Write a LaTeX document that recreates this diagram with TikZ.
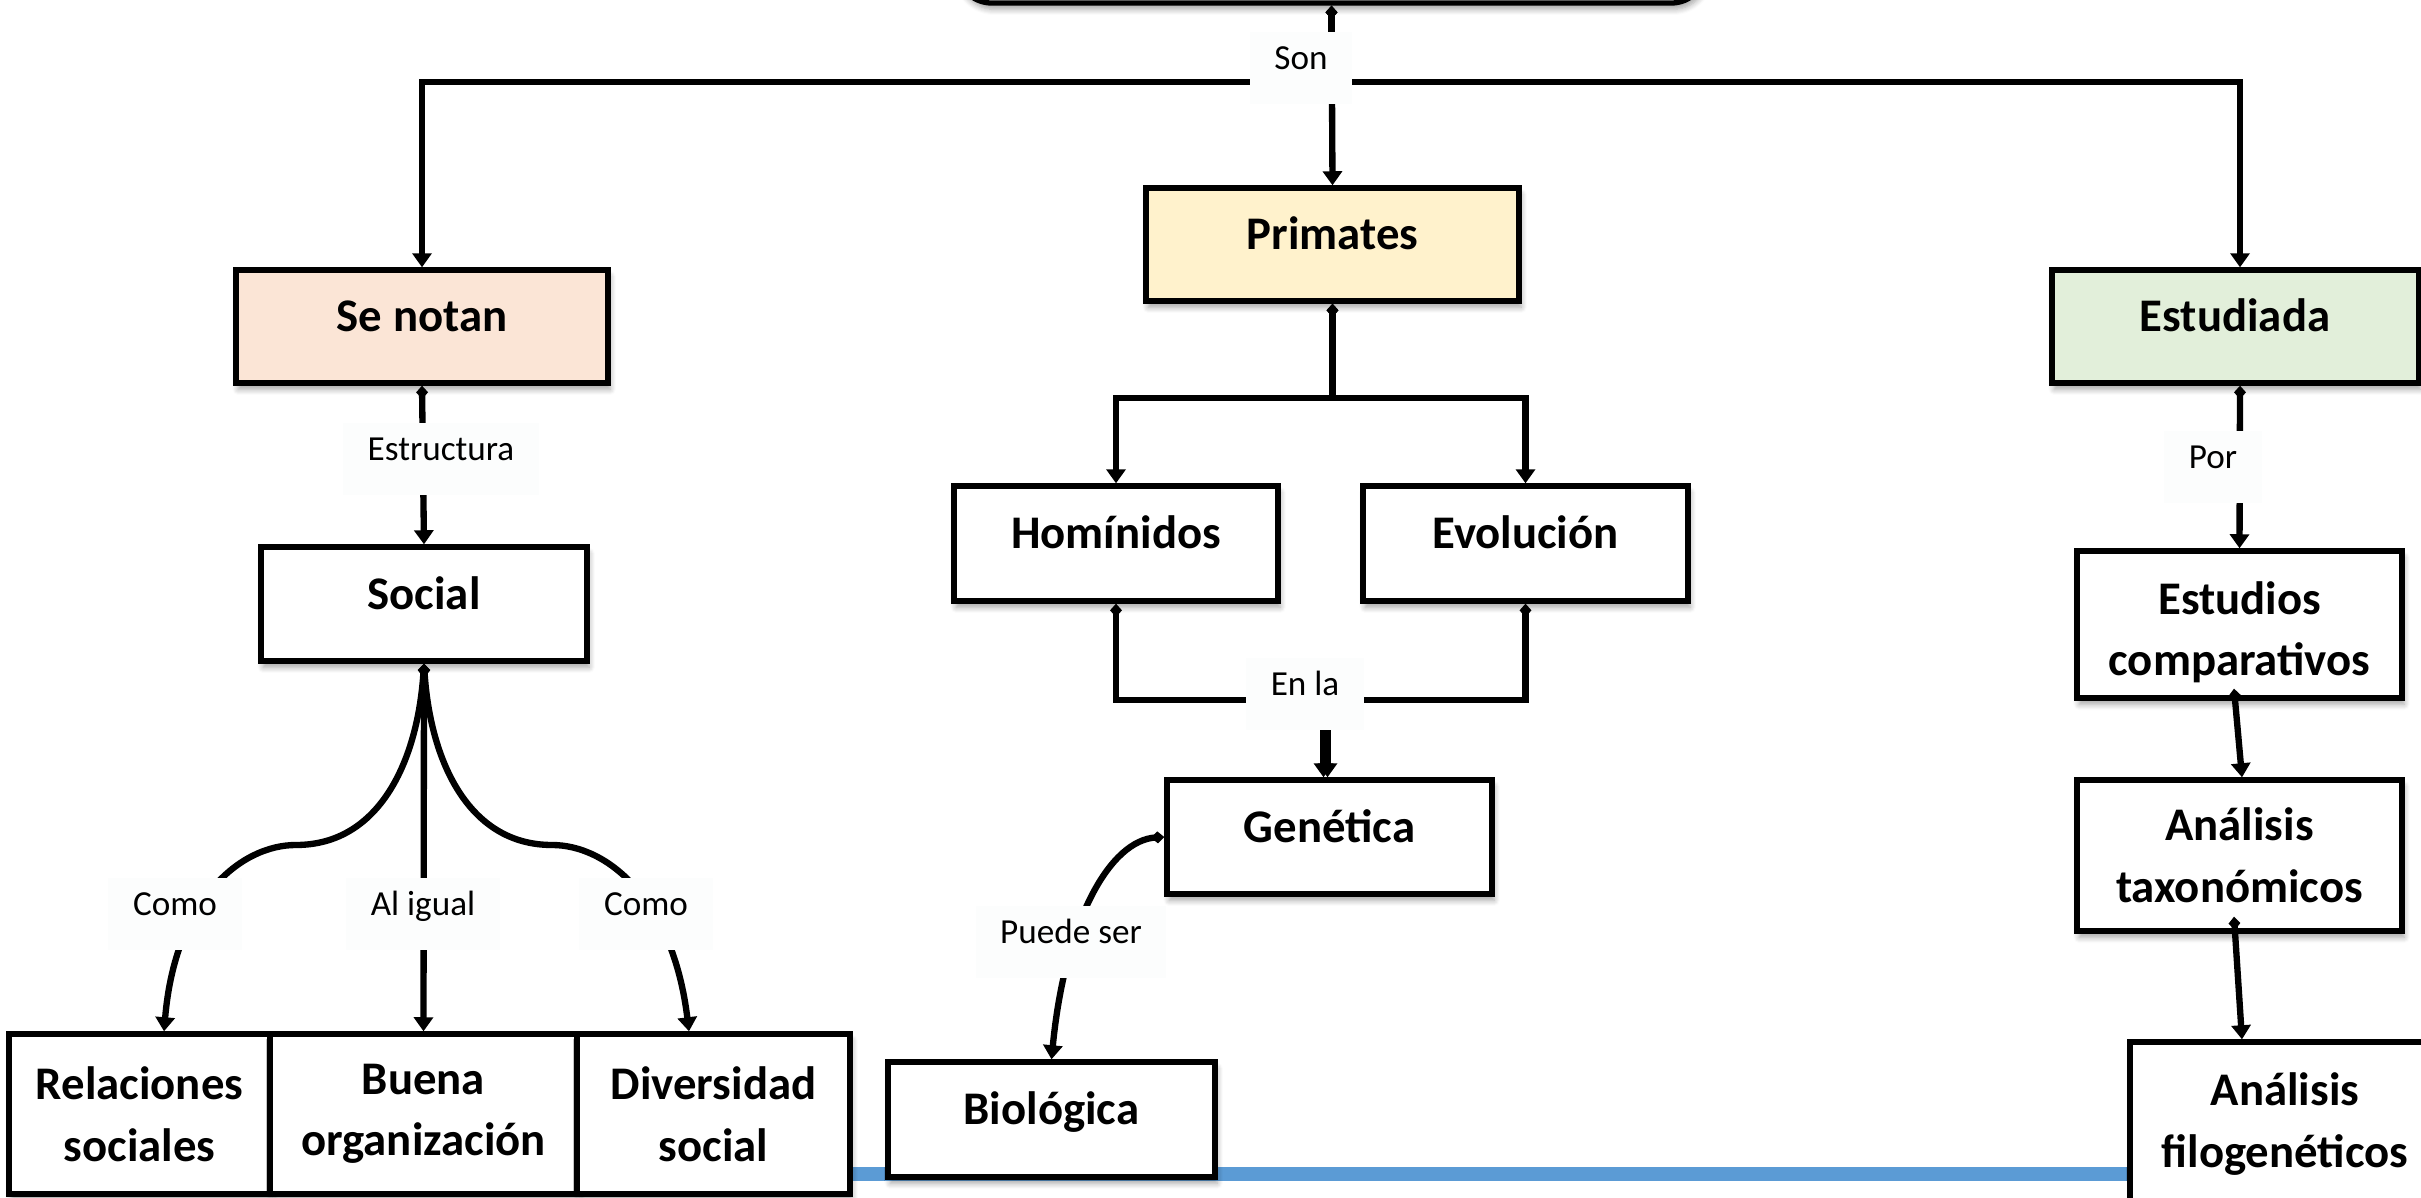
\documentclass[tikz,border=0pt]{standalone}
\usepackage{fontspec}
\setmainfont{Carlito}
\usetikzlibrary{arrows.meta,shadows.blur,backgrounds}
\definecolor{cOrange}{HTML}{FBE5D6}
\definecolor{cYellow}{HTML}{FFF2CC}
\definecolor{cGreen}{HTML}{E2EFDA}
\definecolor{cLabel}{RGB}{252,253,253}
\definecolor{cBlue}{HTML}{5B9BD5}
\tikzset{
  box/.style={draw=black, line width=1.5pt, fill=white, rectangle, inner sep=0pt,
    font=\fontsize{13.3}{17.5}\selectfont\bfseries, align=center,
    blur shadow={shadow xshift=0.6pt, shadow yshift=-1.8pt, shadow blur steps=6, shadow blur radius=1.6pt, shadow opacity=35}},
  one/.style={text height=9.5pt, text depth=6.6pt},
  lbl/.style={fill=cLabel, font=\fontsize{10}{12}\selectfont, inner xsep=7pt, inner ysep=3pt,
    text height=7.7pt, text depth=6.7pt},
  conn/.style={draw=black, line width=1.8pt,
    {Diamond[length=3.8pt,width=3.4pt]}-{Triangle[length=4pt,width=5.4pt]}},
  blueline/.style={draw=cBlue, line width=4pt},
}
\begin{document}
\begin{tikzpicture}[x=0.01cm, y=-0.01cm]
\useasboundingbox (0,0) rectangle (2421,1198);
\clip (0,0) rectangle (2421,1198);

% top (cut-off) box
\node[box, rounded corners=0.35cm, minimum width=7.49cm, minimum height=1.5cm] (top) at (1331.5,-72) {};

% left column
\node[box, one, fill=cOrange, minimum width=3.72cm, minimum height=1.13cm] (senotan) at (422,326.5) {Se notan};
\node[box, one, minimum width=3.26cm, minimum height=1.14cm] (social) at (424,604) {Social};
\node[box, minimum width=2.61cm, minimum height=1.60cm] (relaciones) at (139.5,1114) {Relaciones\\sociales};
\node[box, minimum width=3.07cm, minimum height=1.60cm] (buena) at (423.5,1114) {Buena\\organización};
\node[box, minimum width=2.73cm, minimum height=1.60cm] (diversidad) at (713.5,1114) {Diversidad\\social};

% middle column
\node[box, one, fill=cYellow, minimum width=3.73cm, minimum height=1.13cm] (primates) at (1332.5,244.5) {Primates};
\node[box, one, minimum width=3.24cm, minimum height=1.15cm] (hominidos) at (1116,543.5) {Homínidos};
\node[box, one, minimum width=3.25cm, minimum height=1.15cm] (evolucion) at (1525.5,543.5) {Evolución};
\node[box, one, minimum width=3.25cm, minimum height=1.14cm] (genetica) at (1329.5,837) {Genética};
\node[box, one, minimum width=3.27cm, minimum height=1.15cm] (biologica) at (1051.5,1119.5) {Biológica};

% right column
\node[box, one, fill=cGreen, minimum width=3.66cm, minimum height=1.13cm] (estudiada) at (2235,326.5) {Estudiada};
\node[box, text height=31.3pt, minimum width=3.25cm, minimum height=1.47cm] (estudios) at (2239.5,624.5) {Estudios\\comparativos};
\node[box, minimum width=3.25cm, minimum height=1.51cm] (taxonomicos) at (2239.5,855.5) {Análisis\\taxonómicos};
\node[box, minimum width=3.10cm, minimum height=1.64cm] (filo) at (2285,1124) {Análisis\\filogenéticos};

% blue line behind
\coordinate (bluey) at (0,1174);
\begin{pgfonlayer}{background}
\draw[blueline] (diversidad.east |- bluey) -- (filo.west |- bluey);
\end{pgfonlayer}

% connectors
\coordinate (bus) at (0,82);
\coordinate (split) at (0,398);
\coordinate (join) at (0,700);
\draw[conn] (top.south) -- (top.south |- bus) -| (senotan.north);
\draw[conn] (top.south) -- (primates.north);
\draw[conn] (top.south) -- (top.south |- bus) -| ([xshift=0.05cm]estudiada.north);

\draw[conn] (senotan.south) -- (social.north);
\draw[conn] (social.south) .. controls (418,760) and (380,845) .. (296,845)
  .. controls (240,845) and (175,900) .. ([xshift=0.245cm]relaciones.north);
\draw[conn] (social.south) -- (buena.north);
\draw[conn] (social.south) .. controls (430,760) and (468,845) .. (552,845)
  .. controls (608,845) and (673,900) .. ([xshift=-0.245cm]diversidad.north);

\draw[conn] (primates.south) -- (primates.south |- split) -| (hominidos.north);
\draw[conn] (primates.south) -- (primates.south |- split) -| (evolucion.north);

\draw[conn] (hominidos.south) -- (hominidos.south |- join) -| ([xshift=-0.06cm]genetica.north);
\draw[conn] (evolucion.south) -- (evolucion.south |- join) -| ([xshift=-0.02cm]genetica.north);

\draw[conn] (genetica.west) .. controls (1110,840) and (1065,920) .. (biologica.north);

\draw[conn] ([xshift=0.05cm]estudiada.south) -- (estudios.north);
\draw[conn] ([xshift=-0.055cm,yshift=0.12cm]estudios.south) -- ([xshift=0.025cm]taxonomicos.north);
\draw[conn] ([xshift=-0.055cm,yshift=0.17cm]taxonomicos.south) -- ([xshift=-0.43cm]filo.north);

% labels
\node[lbl] (lson) at (1301,68) {Son};
\node[lbl] (lestr) at (441,459) {Estructura};
\node[lbl] (lcomo1) at (175,914) {Como};
\node[lbl] (ligual) at (423,914) {Al igual};
\node[lbl] (lcomo2) at (646,914) {Como};
\node[lbl] (lenla) at (1305,694) {En la};
\node[lbl] (lpuede) at (1071,942) {Puede ser};
\node[lbl] (lpor) at (2213,467) {Por};
\end{tikzpicture}
\end{document}
